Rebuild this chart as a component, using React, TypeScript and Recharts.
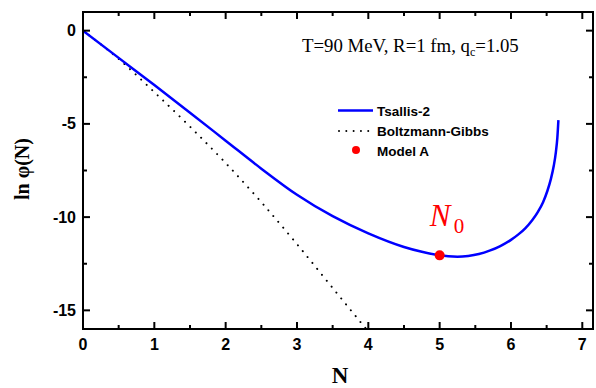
import React from 'react';
import { ComposedChart, Line, Scatter, XAxis, YAxis, Legend } from 'recharts';

// ---- data ----
const tsallisN = [0, 0.5, 1, 1.5, 2, 2.5, 3, 3.5, 4, 4.5, 4.75, 5, 5.12, 5.25, 5.4, 5.55, 5.7, 5.85, 6.0, 6.1, 6.2, 6.3, 6.38, 6.45, 6.51, 6.56, 6.6, 6.63, 6.65, 6.665];
const tsallisLnPhi = [0, -1.46, -2.92, -4.4, -5.9, -7.4, -8.8, -9.95, -10.87, -11.6, -11.86, -12.05, -12.1, -12.12, -12.08, -11.98, -11.8, -11.55, -11.22, -10.94, -10.6, -10.15, -9.7, -9.2, -8.6, -7.95, -7.25, -6.5, -5.75, -4.8];

const bgN = [0, 0.5, 1, 1.5, 2, 2.5, 3, 3.5, 3.97];
const bgLnPhi = [0, -1.52, -3.3, -5.15, -7.1, -9.2, -11.45, -13.8, -16.0];

const modelAN = [5];
const modelALnPhi = [-12.05];

const xTicks = [0, 0.5, 1, 1.5, 2, 2.5, 3, 3.5, 4, 4.5, 5, 5.5, 6, 6.5, 7];
const xLabeled = [0, 1, 2, 3, 4, 5, 6, 7];
const yTicks = [0, -2.5, -5, -7.5, -10, -12.5, -15];
const yLabeled = [0, -5, -10, -15];

const seriesNames = ['Tsallis-2', 'Boltzmann-Gibbs', 'Model A'];
const titleMain = 'T=90 MeV, R=1 fm, q';
const titleSub = 'c';
const titleTail = '=1.05';

const tsallisData = tsallisN.map((n, i) => ({ n, v: tsallisLnPhi[i] }));
const bgData = bgN.map((n, i) => ({ n, v: bgLnPhi[i] }));
const modelAData = modelAN.map((n, i) => ({ n, v: modelALnPhi[i] }));

// ---- layout constants ----
const W = 596;
const H = 388;
const PLOT_LEFT = 83;
const PLOT_TOP = 12;
const PLOT_RIGHT = 593;
const PLOT_BOTTOM = 329;
const MAJOR = 7;
const MINOR = 4;
const SANS = "Arial, 'Liberation Sans', sans-serif";
const SERIF = "'Times New Roman', 'Liberation Serif', serif";
const DOTS = '0.01 7.6';
const X_DOMAIN: [number, number] = [0, 7.15];
const Y_DOMAIN: [number, number] = [-16, 1];

// bottom tick (inward) + mirrored top tick + label
const BottomTick = (props: any) => {
  const { x, payload } = props;
  const major = xLabeled.includes(payload.value);
  const len = major ? MAJOR : MINOR;
  return (
    <g>
      <line x1={x} x2={x} y1={PLOT_BOTTOM} y2={PLOT_BOTTOM - len} stroke="#000" strokeWidth={2} />
      <line x1={x} x2={x} y1={PLOT_TOP} y2={PLOT_TOP + len} stroke="#000" strokeWidth={2} />
      {major && (
        <text x={x} y={349.5} textAnchor="middle" fontFamily={SANS} fontWeight="bold" fontSize={16} fill="#000">
          {payload.value}
        </text>
      )}
    </g>
  );
};

// left tick (inward) + mirrored right tick + label
const LeftTick = (props: any) => {
  const { y, payload } = props;
  const major = yLabeled.includes(payload.value);
  const len = major ? MAJOR : MINOR;
  return (
    <g>
      <line x1={PLOT_LEFT} x2={PLOT_LEFT + len} y1={y} y2={y} stroke="#000" strokeWidth={2} />
      <line x1={PLOT_RIGHT} x2={PLOT_RIGHT - len} y1={y} y2={y} stroke="#000" strokeWidth={2} />
      {major && (
        <text x={76} y={y + 5.5} textAnchor="end" fontFamily={SANS} fontWeight="bold" fontSize={16} fill="#000">
          {payload.value}
        </text>
      )}
    </g>
  );
};

const ModelAShape = (props: any) => {
  const { cx, cy } = props;
  return (
    <g>
      <circle cx={cx} cy={cy} r={5} fill="#ff0000" />
      <text x={cx - 10} y={cy - 29} fontFamily={SERIF} fontStyle="italic" fontSize={31} fill="#ff0000">
        N
      </text>
      <text x={cx + 14} y={cy - 22} fontFamily={SERIF} fontSize={21} fill="#ff0000">
        0
      </text>
    </g>
  );
};

const LegendContent = () => (
  <svg width={200} height={64} style={{ display: 'block' }}>
    <line x1={8} x2={43} y1={10.5} y2={10.5} stroke="#0000ff" strokeWidth={2.5} />
    <text x={47} y={16} fontFamily={SANS} fontWeight="bold" fontSize={13.5} fill="#000">{seriesNames[0]}</text>
    <line x1={9} x2={43} y1={31} y2={31} stroke="#000" strokeWidth={2} strokeLinecap="round" strokeDasharray="0.01 7.3" />
    <text x={47} y={36} fontFamily={SANS} fontWeight="bold" fontSize={13.5} fill="#000">{seriesNames[1]}</text>
    <circle cx={26} cy={50} r={4} fill="#ff0000" />
    <text x={47} y={55.5} fontFamily={SANS} fontWeight="bold" fontSize={13.5} fill="#000">{seriesNames[2]}</text>
  </svg>
);

export default function App() {
  return (
    <div style={{ position: 'absolute', left: 0, top: 0, width: W, height: H, background: '#fff' }}>
      <ComposedChart
        width={W}
        height={H}
        margin={{ top: PLOT_TOP, right: W - PLOT_RIGHT, bottom: 29, left: PLOT_LEFT - 60 }}
      >
        <XAxis
          xAxisId="bottom"
          dataKey="n"
          type="number"
          domain={X_DOMAIN}
          ticks={xTicks}
          interval={0}
          allowDataOverflow
          height={30}
          axisLine={{ stroke: '#000', strokeWidth: 2 }}
          tickLine={false}
          tick={<BottomTick />}
          label={() => (
            <text x={340} y={383} textAnchor="middle" fontFamily={SERIF} fontWeight="bold" fontSize={23} fill="#000">
              N
            </text>
          )}
        />
        <YAxis
          yAxisId="left"
          dataKey="v"
          type="number"
          domain={Y_DOMAIN}
          ticks={yTicks}
          interval={0}
          allowDataOverflow
          width={60}
          axisLine={{ stroke: '#000', strokeWidth: 2 }}
          tickLine={false}
          tick={<LeftTick />}
          label={() => (
            <text
              x={29}
              y={169}
              transform="rotate(-90 29 169)"
              textAnchor="middle"
              fontFamily={SERIF}
              fontWeight="bold"
              fontSize={20}
              fill="#000"
            >
              ln φ(N)
            </text>
          )}
        />
        <Line
          xAxisId="bottom"
          yAxisId="left"
          data={bgData}
          dataKey="v"
          name={seriesNames[1]}
          type="monotone"
          stroke="#000"
          strokeWidth={2}
          strokeLinecap="round"
          strokeDasharray={DOTS}
          dot={false}
          isAnimationActive={false}
        />
        <Line
          xAxisId="bottom"
          yAxisId="left"
          data={tsallisData}
          dataKey="v"
          name={seriesNames[0]}
          type="monotone"
          stroke="#0000ff"
          strokeWidth={2.5}
          dot={false}
          isAnimationActive={false}
        />
        <Scatter
          xAxisId="bottom"
          yAxisId="left"
          data={modelAData}
          dataKey="v"
          name={seriesNames[2]}
          fill="#ff0000"
          shape={<ModelAShape />}
          isAnimationActive={false}
        />
        <Legend
          layout="vertical"
          align="center"
          verticalAlign="middle"
          content={<LegendContent />}
          wrapperStyle={{ position: 'absolute', left: 330, top: 100, width: 200, height: 64 }}
        />
      </ComposedChart>
      {/* plot frame box */}
      <div
        style={{
          position: 'absolute',
          left: PLOT_LEFT - 1,
          top: PLOT_TOP - 1,
          width: PLOT_RIGHT - PLOT_LEFT + 2,
          height: PLOT_BOTTOM - PLOT_TOP + 2,
          border: '2px solid #000',
          boxSizing: 'border-box',
          pointerEvents: 'none',
        }}
      />
      <svg width={W} height={H} style={{ position: 'absolute', left: 0, top: 0, pointerEvents: 'none' }}>
        <text x={302} y={52} fontFamily={SERIF} fontSize={18.8} fill="#000">
          {titleMain}
          <tspan fontSize={12} dy={4}>{titleSub}</tspan>
          <tspan dy={-4}>{titleTail}</tspan>
        </text>
      </svg>
    </div>
  );
}
